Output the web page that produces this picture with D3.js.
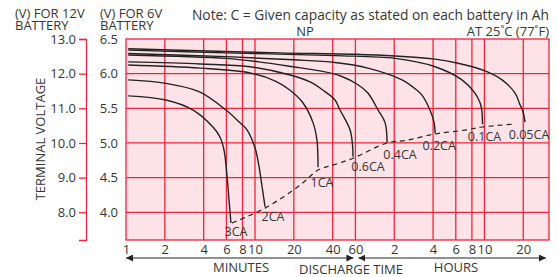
<!DOCTYPE html>
<html>
<head>
<meta charset="utf-8">
<script src="https://cdn.jsdelivr.net/npm/d3@7"></script>
<style>
  html, body { margin: 0; padding: 0; background: #fff; }
  svg { display: block; font-family: "Open Sans", sans-serif; }
</style>
</head>
<body>
<div id="chart"></div>
<script>
// x ticks in minutes, with the labels printed under them
const xTicks = [1, 2, 4, 6, 8, 10, 20, 40, 60, 120, 240, 360, 480, 600, 1200];
const xTickLabels = ['1', '2', '4', '6', '8', '10', '20', '40', '60', '2', '4', '6', '8', '10', '20'];
const volt6Ticks = [4.0, 4.5, 5.0, 5.5, 6.0, 6.5];
const volt12Ticks = [8.0, 9.0, 10.0, 11.0, 12.0, 13.0];

// discharge curves: [minutes, volts per 6V battery]
const curveNames = ['0.05CA', '0.1CA', '0.2CA', '0.4CA', '0.6CA', '1CA', '2CA', '3CA'];
const c005 = [[1.04, 6.36], [3.75, 6.33], [15.6, 6.30], [59.6, 6.28], [122, 6.255], [249, 6.21], [375, 6.15], [607, 6.04], [822, 5.91], [1037, 5.72], [1133, 5.55], [1195, 5.45], [1239, 5.30]];
const c01 = [[1.04, 6.34], [5.96, 6.30], [41.7, 6.26], [122, 6.22], [249, 6.10], [402, 5.91], [507, 5.72], [555, 5.58], [572, 5.48], [580, 5.27]];
const c02 = [[1.04, 6.29], [5.96, 6.245], [19.7, 6.20], [41.7, 6.16], [75, 6.08], [138, 5.91], [180, 5.76], [197, 5.69], [227, 5.475], [244, 5.30], [249, 5.14]];
const c04 = [[1.04, 6.27], [5.96, 6.22], [10.7, 6.17], [19.7, 6.10], [31.9, 6.04], [45.6, 5.97], [62.9, 5.84], [75, 5.72], [90, 5.475], [102, 5.29], [105.5, 5.01]];
const c06 = [[1.04, 6.17], [3.75, 6.14], [9.15, 6.10], [18.7, 5.98], [26.7, 5.88], [33.7, 5.76], [41.7, 5.62], [45.6, 5.475], [54.5, 5.19], [57, 4.97], [57.5, 4.80]];
const c1 = [[1.04, 6.125], [3.75, 6.08], [9.15, 6.01], [14.5, 5.89], [18.7, 5.76], [23.5, 5.58], [28.2, 5.29], [30.2, 5.04], [30.8, 4.65]];
const c2 = [[1.04, 5.91], [2.04, 5.86], [3.68, 5.74], [5.96, 5.475], [7.65, 5.29], [8.67, 5.19], [10, 4.93], [10.7, 4.68], [11.3, 4.39], [11.96, 4.08]];
const c3 = [[1.04, 5.68], [2.04, 5.62], [3.31, 5.475], [4.72, 5.23], [5.35, 5.086], [5.75, 4.898], [6.06, 4.538], [6.29, 4.177], [6.51, 3.845]];
const curves = [c005, c01, c02, c04, c06, c1, c2, c3];

// end voltage line (dashed)
const endLine = [[6.63, 3.845], [11.96, 4.06], [22.3, 4.39], [30.8, 4.61], [40.2, 4.68], [57.5, 4.78], [105.5, 5.00], [150.6, 5.04], [249, 5.13], [440, 5.19], [575, 5.23], [982, 5.27]];

// label offsets from curve ends (px)
const labelOffsets = [[4, 17], [2, 17], [4, 17], [13, 17], [15, 14], [4, 20], [8, 14], [5, 13]];

const W = 558, H = 277;
const red = '#ee2636', pink = '#fde3e7', ink = '#363636';

const svg = d3.select('#chart').append('svg')
    .attr('width', W).attr('height', H);

const x = d3.scaleLog().domain([1, 1900]).range([126, 549]);
const y = d3.scaleLinear().domain([3.6, 6.5]).range([240, 39]);
const y12 = d3.scaleLinear().domain([7.2, 13.0]).range([240, 39]);

// plot background
svg.append('rect')
    .attr('x', x(1)).attr('y', y(6.5))
    .attr('width', x(1900) - x(1)).attr('height', y(3.6) - y(6.5))
    .attr('fill', pink);

// grid
svg.append('g').selectAll('line').data(xTicks.slice(1)).enter().append('line')
    .attr('x1', d => x(d)).attr('x2', d => x(d))
    .attr('y1', y(6.5)).attr('y2', y(3.6))
    .attr('stroke', red).attr('stroke-width', 1.3);
svg.append('g').selectAll('line').data(volt6Ticks.slice(0, -1)).enter().append('line')
    .attr('x1', x(1)).attr('x2', x(1900))
    .attr('y1', d => y(d)).attr('y2', d => y(d))
    .attr('stroke', red).attr('stroke-width', 1.3);
svg.append('rect')
    .attr('x', x(1)).attr('y', y(6.5))
    .attr('width', x(1900) - x(1)).attr('height', y(3.6) - y(6.5))
    .attr('fill', 'none').attr('stroke', red).attr('stroke-width', 1.3);

// 12V axis
const ax12 = svg.append('g').attr('transform', 'translate(86,0)')
    .call(d3.axisLeft(y12).tickValues(volt12Ticks).tickFormat(d3.format('.1f'))
        .tickSize(7).tickSizeOuter(7).tickPadding(3));
ax12.selectAll('path, line').attr('stroke', red).attr('stroke-width', 1.3);
ax12.selectAll('text').attr('fill', ink).attr('font-size', 13).attr('font-family', 'Open Sans');

// 6V labels
const ax6 = svg.append('g').attr('transform', `translate(${x(1)},0)`)
    .call(d3.axisLeft(y).tickValues(volt6Ticks).tickFormat(d3.format('.1f'))
        .tickSize(0).tickPadding(8));
ax6.select('.domain').remove();
ax6.selectAll('text').attr('fill', ink).attr('font-size', 13).attr('font-family', 'Open Sans');

// bottom labels
const axB = svg.append('g').attr('transform', `translate(0,${y(3.6)})`)
    .call(d3.axisBottom(x).tickValues(xTicks).tickFormat((d, i) => xTickLabels[i])
        .tickSize(0).tickPadding(5));
axB.select('.domain').remove();
axB.selectAll('text').attr('fill', ink).attr('font-size', 13).attr('font-family', 'Open Sans');

// curves
const line = d3.line().x(d => x(d[0])).y(d => y(d[1])).curve(d3.curveCatmullRom.alpha(0.5));
svg.append('g').selectAll('path').data(curves).enter().append('path')
    .attr('d', line)
    .attr('fill', 'none').attr('stroke', '#222').attr('stroke-width', 1.4);

svg.append('path').datum(endLine)
    .attr('d', line)
    .attr('fill', 'none').attr('stroke', '#222').attr('stroke-width', 1.2)
    .attr('stroke-dasharray', '5,4');

svg.append('g').selectAll('text').data(curves).enter().append('text')
    .attr('x', (d, i) => x(d[d.length - 1][0]) + labelOffsets[i][0])
    .attr('y', (d, i) => y(d[d.length - 1][1]) + labelOffsets[i][1])
    .attr('text-anchor', 'middle')
    .attr('font-size', 12.5).attr('fill', ink)
    .text((d, i) => curveNames[i]);

// arrows
const defs = svg.append('defs');
['arrEnd', 'arrStart'].forEach((id, k) => {
    defs.append('marker').attr('id', id)
        .attr('viewBox', '0 0 10 10').attr('refX', k ? 0 : 10).attr('refY', 5)
        .attr('markerWidth', 7).attr('markerHeight', 7)
        .attr('markerUnits', 'userSpaceOnUse').attr('orient', 'auto')
        .append('path')
        .attr('d', k ? 'M10,0L0,5L10,10z' : 'M0,0L10,5L0,10z')
        .attr('fill', '#222');
});
[[x(1), x(60) - 2], [x(60) + 3, x(1900) - 3]].forEach(seg => {
    svg.append('line')
        .attr('x1', seg[0]).attr('x2', seg[1]).attr('y1', 258).attr('y2', 258)
        .attr('stroke', '#222').attr('stroke-width', 1.2)
        .attr('marker-start', 'url(#arrStart)').attr('marker-end', 'url(#arrEnd)');
});

// texts
const txt = (s, tx, ty, anchor, size) => svg.append('text')
    .attr('x', tx).attr('y', ty).attr('text-anchor', anchor || 'start')
    .attr('font-size', size || 13).attr('fill', ink).text(s);

// two-line headers above the voltage scales
[['(V) FOR 12V', 15], ['(V) FOR 6V', 100]].forEach(h => {
    const t = svg.append('text').attr('font-size', 13).attr('fill', ink);
    t.append('tspan').attr('x', h[1]).attr('y', 17.5).text(h[0]);
    t.append('tspan').attr('x', h[1]).attr('y', 30).text('BATTERY');
});
txt('Note: C = Given capacity as stated on each battery in Ah', 549, 20, 'end', 13.8);
txt('NP', 305, 36, 'middle');
txt('AT 25˚C (77˚F)', 549, 36, 'end');
txt('MINUTES', 241, 272, 'middle');
txt('DISCHARGE TIME', 351, 273.5, 'middle');
txt('HOURS', 456, 272, 'middle');
svg.append('text')
    .attr('transform', 'translate(45,139) rotate(-90)')
    .attr('text-anchor', 'middle').attr('font-size', 13).attr('fill', ink)
    .text('TERMINAL VOLTAGE');
</script>
</body>
</html>
